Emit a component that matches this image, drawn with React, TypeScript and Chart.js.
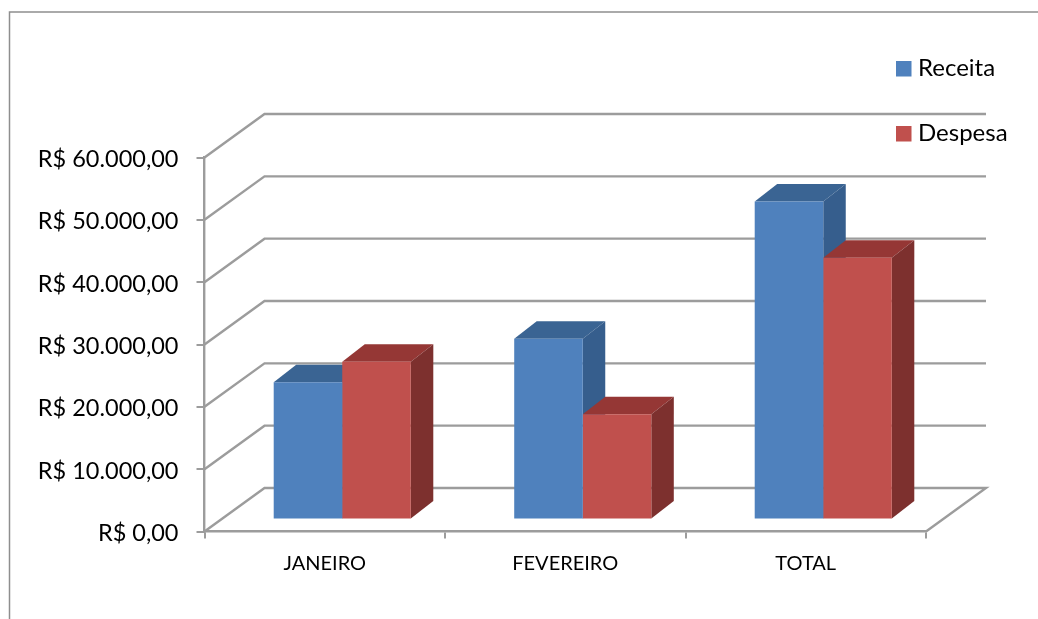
import React, { useEffect, useRef } from "react";
import { Chart, registerables } from "chart.js";

Chart.register(...registerables);

const categories = ["JANEIRO", "FEVEREIRO", "TOTAL"];
const receita = [22000, 29000, 51000];
const despesa = [25300, 16900, 42000];
const yTickLabels = [
  "R$ 0,00",
  "R$ 10.000,00",
  "R$ 20.000,00",
  "R$ 30.000,00",
  "R$ 40.000,00",
  "R$ 50.000,00",
  "R$ 60.000,00",
];

const FONT = "Lato, Carlito, 'Open Sans', sans-serif";
const GRID = "#9c9c9c";
const FRAME = "#8e8e8e";
const WALL_DX = 60;
const WALL_DY = 43.5;
const BAR_SHIFT_X = 17.5;
const BAR_SHIFT_Y = 12;
const BAR_DX = 22.5;
const BAR_DY = 17.5;

const faces: Record<string, { top: string; side: string }> = {
  Receita: { top: "#3A6493", side: "#365E8D" },
  Despesa: { top: "#953735", side: "#7D302E" },
};

const walls = {
  id: "walls",
  beforeDraw(chart: any) {
    const { ctx, width, height } = chart;
    ctx.save();
    ctx.fillStyle = "#ffffff";
    ctx.fillRect(0, 0, width, height);
    ctx.strokeStyle = FRAME;
    ctx.lineWidth = 1.5;
    ctx.beginPath();
    ctx.moveTo(9.5, height);
    ctx.lineTo(9.5, 12);
    ctx.lineTo(width, 12);
    ctx.stroke();
    ctx.restore();
  },
  beforeDatasetsDraw(chart: any) {
    const { ctx, chartArea, scales } = chart;
    const { left, right } = chartArea;
    ctx.save();
    ctx.strokeStyle = GRID;
    ctx.lineWidth = 2.4;
    ctx.lineJoin = "miter";
    scales.y.ticks.forEach((t: any) => {
      const y = scales.y.getPixelForValue(t.value);
      ctx.beginPath();
      ctx.moveTo(left, y);
      ctx.lineTo(left + WALL_DX, y - WALL_DY);
      ctx.lineTo(right + WALL_DX, y - WALL_DY);
      if (t.value === 0) ctx.lineTo(right, y);
      ctx.stroke();
    });
    ctx.restore();

    // depth faces, left series first so the right one sits in front of it
    ctx.save();
    ctx.translate(BAR_SHIFT_X, -BAR_SHIFT_Y);
    chart.data.datasets.forEach((ds: any, i: number) => {
      const f = faces[ds.label];
      chart.getDatasetMeta(i).data.forEach((bar: any) => {
        const l = bar.x - bar.width / 2;
        const r = bar.x + bar.width / 2;
        const t = bar.y;
        const b = bar.base;
        ctx.fillStyle = f.top;
        ctx.beginPath();
        ctx.moveTo(l, t);
        ctx.lineTo(l + BAR_DX, t - BAR_DY);
        ctx.lineTo(r + BAR_DX, t - BAR_DY);
        ctx.lineTo(r, t);
        ctx.closePath();
        ctx.fill();
        ctx.fillStyle = f.side;
        ctx.beginPath();
        ctx.moveTo(r, t);
        ctx.lineTo(r + BAR_DX, t - BAR_DY);
        ctx.lineTo(r + BAR_DX, b - BAR_DY);
        ctx.lineTo(r, b);
        ctx.closePath();
        ctx.fill();
      });
    });
    ctx.restore();
  },
  beforeDatasetDraw(chart: any) {
    const { ctx } = chart;
    ctx.save();
    ctx.translate(BAR_SHIFT_X, -BAR_SHIFT_Y);
  },
  afterDatasetDraw(chart: any) {
    chart.ctx.restore();
  },
  afterDraw(chart: any) {
    const { ctx } = chart;
    const legendY = [61, 126];
    ctx.save();
    ctx.font = `24px ${FONT}`;
    ctx.textBaseline = "alphabetic";
    ctx.textAlign = "left";
    chart.data.datasets.forEach((ds: any, i: number) => {
      ctx.fillStyle = ds.backgroundColor;
      ctx.fillRect(896, legendY[i], 15.5, 15.5);
      ctx.fillStyle = "#000000";
      ctx.fillText(ds.label, 918, legendY[i] + 14.5);
    });
    ctx.restore();
  },
};

export default function App() {
  const ref = useRef<HTMLCanvasElement>(null);
  useEffect(() => {
    const chart = new Chart(ref.current as HTMLCanvasElement, {
      type: "bar",
      data: {
        labels: categories,
        datasets: [
          { label: "Receita", data: receita, backgroundColor: "#4F81BD", borderWidth: 0 },
          { label: "Despesa", data: despesa, backgroundColor: "#C0504D", borderWidth: 0 },
        ],
      },
      options: {
        animation: false,
        responsive: false,
        devicePixelRatio: 1,
        layout: { padding: { top: 157.5, right: 112, left: 0, bottom: 0 } },
        datasets: { bar: { categoryPercentage: 0.57, barPercentage: 1, clip: false } },
        plugins: { legend: { display: false }, tooltip: { enabled: false } },
        scales: {
          x: {
            afterFit: (s: any) => { s.height = 87.5; },
            grid: { drawOnChartArea: false, color: GRID, tickColor: GRID, tickLength: 7, lineWidth: 2 },
            border: { color: GRID, width: 2.4 },
            ticks: { color: "#000000", font: { family: FONT, size: 20 }, padding: 13, maxRotation: 0 },
          },
          y: {
            min: 0,
            max: 60000,
            afterFit: (s: any) => { s.width = 204.5; },
            grid: { drawOnChartArea: false, color: GRID, tickColor: GRID, tickLength: 8, lineWidth: 2 },
            border: { color: GRID, width: 2.4 },
            ticks: {
              stepSize: 10000,
              color: "#000000",
              font: { family: FONT, size: 23.5 },
              padding: 18,
              labelOffset: 2,
              callback: (_v: any, i: number) => yTickLabels[i],
            },
          },
        },
      },
      plugins: [walls],
    } as any);
    return () => chart.destroy();
  }, []);
  return (
    <canvas
      ref={ref}
      width={1038}
      height={619}
      style={{ position: "fixed", left: 0, top: 0, width: 1038, height: 619, display: "block" }}
    />
  );
}
